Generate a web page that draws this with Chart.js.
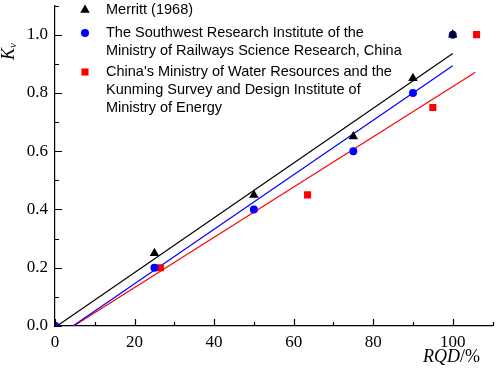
<!DOCTYPE html>
<html>
<head>
<meta charset="utf-8">
<script src="https://cdn.jsdelivr.net/npm/chart.js@4"></script>
<style>
  html, body { margin: 0; padding: 0; background: #fff; }
  #wrap { width: 498px; height: 374px; }
</style>
</head>
<body>
<div id="wrap"><canvas id="chart_1"></canvas></div>
<script>
// measured points
const merrittRQD = [25, 50, 75, 90, 100];
const merrittKv = [0.25, 0.45, 0.65, 0.85, 1.0];
const swriRQD = [0, 25, 50, 75, 90, 100];
const swriKv = [0, 0.2, 0.4, 0.6, 0.8, 1.0];
const mwrRQD = [0, 26.5, 63.5, 95, 106];
const mwrKv = [0, 0.2, 0.45, 0.75, 1.0];

// fitted lines (end points)
const merrittFitRQD = [0.5, 100];
const merrittFitKv = [0, 0.935];
const swriFitRQD = [4.5, 100];
const swriFitKv = [0, 0.893];
const mwrFitRQD = [4.7, 105.7];
const mwrFitKv = [0, 0.871];

const xTicks = [0, 20, 40, 60, 80, 100];
const yTicks = [0, 0.2, 0.4, 0.6, 0.8, 1.0];

const legendLabels = [
  ["Merritt (1968)"],
  ["The Southwest Research Institute of the", "Ministry of Railways Science Research, China"],
  ["China's Ministry of Water Resources and the", "Kunming Survey and Design Institute of", "Ministry of Energy"],
];

const pts = (xs, ys) => xs.map((x, i) => ({ x: x, y: ys[i] }));

const serif = '"Liberation Serif", "Times New Roman", serif';
const sans = '"Liberation Sans", Arial, sans-serif';

const ct = document.getElementById("chart_1");

// inward ticks, axis titles and the legend are drawn by hand
const decor = {
  id: "decor",
  afterDraw(chart) {
    const { ctx, chartArea: a, scales } = chart;
    const xs = scales.x, ys = scales.y;
    ctx.save();
    ctx.strokeStyle = "#000";
    ctx.lineWidth = 1.2;
    ctx.beginPath();
    for (let v = 0; v <= 110; v += 10) {
      const px = Math.round(xs.getPixelForValue(v)) + 0.5;
      const len = v % 20 === 0 ? 7 : 4;
      ctx.moveTo(px, a.bottom);
      ctx.lineTo(px, a.bottom - len);
    }
    for (let i = 0; i <= 11; i++) {
      const py = Math.round(ys.getPixelForValue(i / 10)) + 0.5;
      const len = i % 2 === 0 ? 7 : 4;
      ctx.moveTo(a.left, py);
      ctx.lineTo(a.left + len, py);
    }
    ctx.stroke();

    // y title K_v
    ctx.fillStyle = "#000";
    ctx.save();
    ctx.translate(14, 60);
    ctx.rotate(-Math.PI / 2);
    ctx.textBaseline = "alphabetic";
    ctx.textAlign = "left";
    ctx.font = "italic 18px " + serif;
    ctx.fillText("K", 0, 0);
    const kw = ctx.measureText("K").width;
    ctx.font = "italic 11px " + serif;
    ctx.fillText("v", kw, 2);
    ctx.restore();

    // x title RQD/%
    ctx.font = "italic 18px " + serif;
    ctx.textBaseline = "alphabetic";
    ctx.textAlign = "left";
    const x0 = 423;
    ctx.fillText("RQD", x0, 362);
    const w = ctx.measureText("RQD").width;
    ctx.font = "18px " + serif;
    ctx.fillText("/%", x0 + w, 362);

    // legend
    ctx.font = "14.5px " + sans;
    ctx.textBaseline = "middle";
    const ds = chart.data.datasets;
    const rows = [[10], [33, 51], [72, 90, 108]];
    legendLabels.forEach((lines, i) => {
      const d = ds[i];
      ctx.fillStyle = d.backgroundColor;
      ctx.strokeStyle = d.backgroundColor;
      Chart.helpers.drawPoint(ctx, {
        pointStyle: d.pointStyle,
        radius: d.pointRadius,
        borderWidth: 0,
      }, 85, rows[i][0]);
      ctx.fillStyle = "#000";
      lines.forEach((t, j) => ctx.fillText(t, 106, rows[i][j]));
    });
    ctx.restore();
  },
};

const config = {
  type: "scatter",
  data: {
    datasets: [
      {
        label: legendLabels[0].join(" "),
        data: pts(merrittRQD, merrittKv),
        pointStyle: "triangle",
        pointRadius: 5.5,
        backgroundColor: "#000000",
        borderColor: "#000000",
        borderWidth: 0,
        order: 0,
      },
      {
        label: legendLabels[1].join(" "),
        data: pts(swriRQD, swriKv),
        pointStyle: "circle",
        pointRadius: 4,
        backgroundColor: "#0000ff",
        borderColor: "#0000ff",
        borderWidth: 0,
        order: 1,
      },
      {
        label: legendLabels[2].join(" "),
        data: pts(mwrRQD, mwrKv),
        pointStyle: "rect",
        pointRadius: 5,
        backgroundColor: "#ff0000",
        borderColor: "#ff0000",
        borderWidth: 0,
        order: 2,
      },
      {
        type: "line",
        data: pts(merrittFitRQD, merrittFitKv),
        borderColor: "#000000",
        borderWidth: 1.2,
        pointRadius: 0,
        order: 3,
      },
      {
        type: "line",
        data: pts(swriFitRQD, swriFitKv),
        borderColor: "#0000ff",
        borderWidth: 1.2,
        pointRadius: 0,
        order: 4,
      },
      {
        type: "line",
        data: pts(mwrFitRQD, mwrFitKv),
        borderColor: "#ff0000",
        borderWidth: 1.2,
        pointRadius: 0,
        order: 5,
      },
    ],
  },
  options: {
    responsive: true,
    maintainAspectRatio: false,
    animation: false,
    clip: 0,
    layout: { padding: { top: -2, right: 1, left: 0, bottom: 0 } },
    plugins: {
      legend: { display: false },
      tooltip: { enabled: false },
    },
    scales: {
      x: {
        type: "linear",
        min: 0,
        max: 110,
        grid: { display: false, drawTicks: false },
        border: { display: true, color: "#000", width: 1.2 },
        afterBuildTicks: (s) => { s.ticks = xTicks.map((v) => ({ value: v })); },
        ticks: {
          autoSkip: false,
          padding: 6,
          color: "#000",
          font: { family: serif, size: 17 },
          maxRotation: 0,
          callback: (v) => String(v),
        },
        afterFit: (s) => {
          s.height = 48;
          s.paddingLeft = 0;
          s.paddingRight = 0;
        },
      },
      y: {
        type: "linear",
        min: 0,
        max: 1.1,
        grid: { display: false, drawTicks: false },
        border: { display: true, color: "#000", width: 1.2 },
        afterBuildTicks: (s) => { s.ticks = yTicks.map((v) => ({ value: v })); },
        ticks: {
          autoSkip: false,
          padding: 7,
          color: "#000",
          font: { family: serif, size: 17 },
          callback: (v) => v.toFixed(1),
        },
        afterFit: (s) => {
          s.width = 55;
          s.paddingTop = 0;
          s.paddingBottom = 0;
        },
      },
    },
  },
  plugins: [decor],
};

new Chart(ct, config);
</script>
</body>
</html>
